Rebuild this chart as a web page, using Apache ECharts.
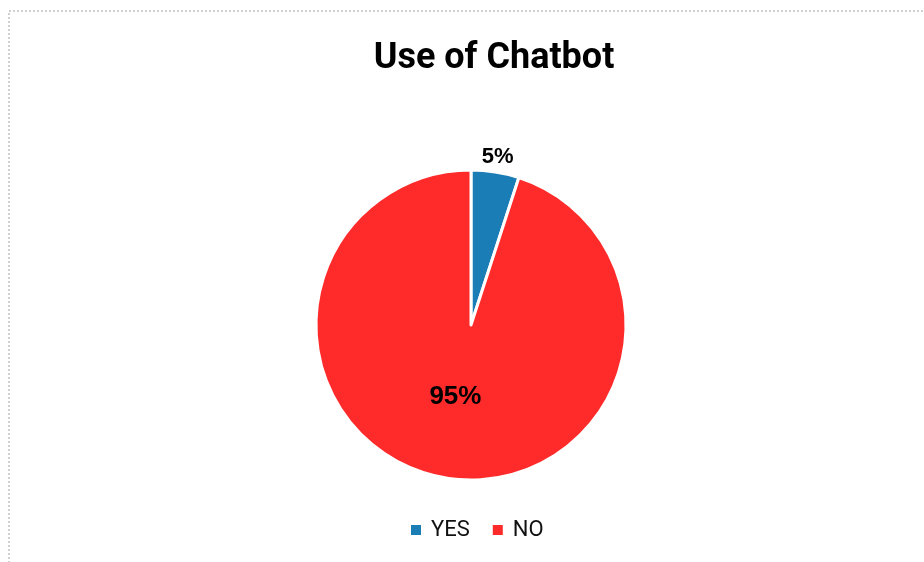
<!DOCTYPE html>
<html>
<head>
<meta charset="utf-8">
<script src="https://cdn.jsdelivr.net/npm/echarts@6/dist/echarts.min.js"></script>
<style>
  html, body { margin: 0; padding: 0; background: #ffffff; }
  #chart { width: 924px; height: 562px; }
</style>
</head>
<body>
<div id="chart"></div>
<script>
// Survey answers: does the respondent use a chatbot?
const categories = ['YES', 'NO'];
const shares = [5, 95];
const sliceColors = ['#1a7db5', '#ff2a2a'];

const chart = echarts.init(document.getElementById('chart'), null, { renderer: 'canvas' });

const pieData = categories.map((name, i) => ({
  name: name,
  value: shares[i],
  itemStyle: { color: sliceColors[i] },
  label: i === 0
    ? { position: 'outside', fontSize: 22 }
    : { position: 'inside', fontSize: 26 }
}));

chart.setOption({
  backgroundColor: '#ffffff',
  animation: false,
  title: {
    text: 'Use of Chatbot',
    left: 489,
    textAlign: 'center',
    top: 36,
    textStyle: {
      fontFamily: 'Roboto',
      fontWeight: 'bold',
      fontSize: 36,
      color: '#000000'
    }
  },
  legend: {
    bottom: 16,
    left: 404,
    itemWidth: 12,
    itemHeight: 12,
    itemGap: 21,
    icon: 'rect',
    textStyle: { fontFamily: 'Roboto', fontSize: 22, color: '#111111', padding: [0, 0, 0, 4] },
    data: categories
  },
  graphic: [{
    type: 'rect',
    shape: { x: 9, y: 11, width: 960, height: 600 },
    style: { fill: 'none', stroke: '#d0d0d0', lineWidth: 2, lineDash: [2, 2] },
    silent: true
  }],
  series: [{
    type: 'pie',
    center: [471, 325],
    radius: [0, 155],
    startAngle: 90,
    clockwise: true,
    itemStyle: { borderColor: '#ffffff', borderWidth: 3 },
    label: {
      show: true,
      formatter: '{d}%',
      fontFamily: 'Liberation Sans',
      fontWeight: 'bold',
      color: '#000000'
    },
    labelLine: { show: false, length: 4, length2: 0 },
    // nudge the two percentage labels to sit where the chart places them
    labelLayout: function (params) {
      return params.dataIndex === 0 ? { dx: -19, dy: -11 } : { dx: -3, dy: -8 };
    },
    data: pieData
  }]
});
</script>
</body>
</html>
